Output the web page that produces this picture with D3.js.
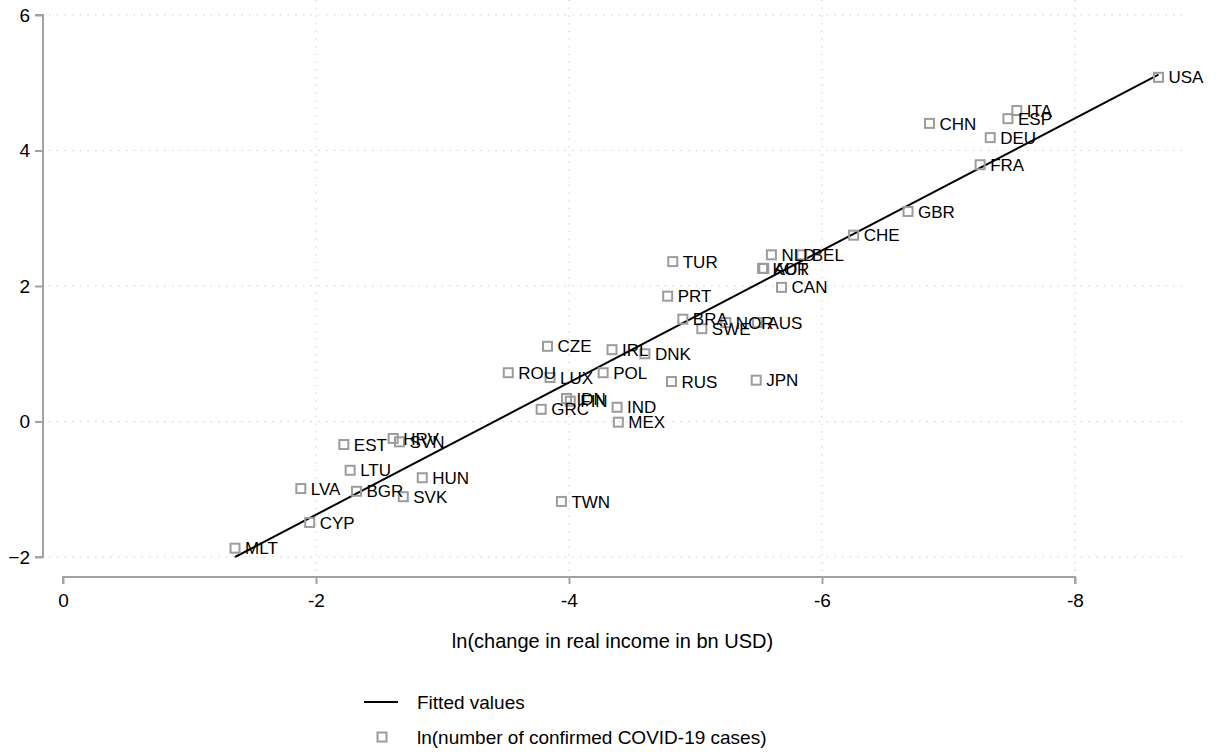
<!DOCTYPE html>
<html>
<head>
<meta charset="utf-8">
<script src="https://cdn.jsdelivr.net/npm/d3@7.9.0/dist/d3.min.js"></script>
<style>
  body { margin: 0; background: #fff; }
  svg { display: block; font-family: "Liberation Sans", Arial, sans-serif; }
</style>
</head>
<body>
<div id="chart"></div>
<script>
// country codes, ln(change in real income) and ln(confirmed cases)
const countries = ['USA','ITA','ESP','CHN','DEU','FRA','GBR','CHE','NLD','BEL','KOR','AUT','CAN','TUR','PRT',
  'BRA','SWE','NOR','AUS','CZE','IRL','DNK','ROU','LUX','POL','RUS','JPN','IDN','FIN','GRC','IND','MEX','TWN',
  'EST','HRV','SVN','LTU','HUN','LVA','BGR','SVK','CYP','MLT'];
const incomeChange = [-8.66,-7.54,-7.47,-6.85,-7.33,-7.25,-6.68,-6.25,-5.60,-5.84,-5.53,-5.54,-5.68,-4.82,-4.78,
  -4.90,-5.05,-5.24,-5.49,-3.83,-4.34,-4.60,-3.52,-3.85,-4.27,-4.81,-5.48,-3.98,-4.01,-3.78,-4.38,-4.39,-3.94,
  -2.22,-2.61,-2.66,-2.27,-2.84,-1.88,-2.32,-2.69,-1.95,-1.36];
const covidCases = [5.08,4.59,4.47,4.40,4.19,3.79,3.10,2.75,2.46,2.46,2.26,2.26,1.98,2.36,1.85,
  1.51,1.37,1.46,1.46,1.11,1.06,1.00,0.72,0.65,0.72,0.59,0.61,0.34,0.30,0.18,0.21,-0.01,-1.18,
  -0.34,-0.25,-0.30,-0.72,-0.83,-0.99,-1.03,-1.11,-1.49,-1.87];

// fitted line endpoints
const fitX = [-1.36, -8.66];
const fitY = [-2.00, 5.12];

const xTicks = [0, -2, -4, -6, -8];
const yTicks = [-2, 0, 2, 4, 6];

const width = 1217, height = 754;
const axisGrey = '#a3a3a3';
const markerGrey = '#9c9c9c';

const svg = d3.select('#chart').append('svg')
  .attr('width', width)
  .attr('height', height);

const xScale = d3.scaleLinear().domain([0, -8]).range([63, 1075]);
const yScale = d3.scaleLinear().domain([-2, 6]).range([557, 15]);

const plotLeft = 43, plotRight = 1182, plotTop = 0, plotBottom = 565;

// gridlines
const grid = svg.append('g').attr('class', 'grid');
grid.selectAll('line.h')
  .data(yTicks)
  .join('line')
  .attr('class', 'h')
  .attr('x1', plotLeft + 6).attr('x2', plotRight)
  .attr('y1', d => yScale(d)).attr('y2', d => yScale(d));
grid.selectAll('line.v')
  .data(xTicks.filter(d => d !== 0))
  .join('line')
  .attr('class', 'v')
  .attr('x1', d => xScale(d)).attr('x2', d => xScale(d))
  .attr('y1', plotTop).attr('y2', plotBottom + 8);
grid.selectAll('line')
  .attr('stroke', '#c4c4c4')
  .attr('stroke-width', 1)
  .attr('stroke-dasharray', '1.2,6.5');

// y axis
const yAxis = svg.append('g')
  .attr('transform', `translate(${plotLeft},0)`)
  .call(d3.axisLeft(yScale).tickValues(yTicks).tickSize(8).tickPadding(5).tickFormat(d3.format('d')));

// x axis
const xAxis = svg.append('g')
  .attr('transform', 'translate(0,577)')
  .call(d3.axisBottom(xScale).tickValues(xTicks).tickSize(7).tickPadding(10).tickFormat(d => d === 0 ? '0' : '-' + Math.abs(d)));

[yAxis, xAxis].forEach(ax => {
  ax.select('.domain').attr('stroke', axisGrey).attr('stroke-width', 2);
  ax.selectAll('.tick line').attr('stroke', axisGrey).attr('stroke-width', 2);
  ax.selectAll('.tick text').attr('fill', '#000').style('font-size', '19px')
    .style('font-family', '"Liberation Sans", Arial, sans-serif');
});
yAxis.select('.domain').attr('d', `M-8,${yScale(6)}H0V${yScale(-2)}H-8`);
xAxis.select('.domain').attr('d', `M${xScale(0)},7V0H${xScale(-8)}V7`);

svg.append('text')
  .attr('x', (plotLeft + plotRight) / 2)
  .attr('y', 641)
  .attr('dy', '0.36em')
  .attr('text-anchor', 'middle')
  .style('font-size', '20px')
  .text('ln(change in real income in bn USD)');

// fitted line
const fitData = fitX.map((x, i) => ({ x, y: fitY[i] }));
svg.append('path')
  .datum(fitData)
  .attr('fill', 'none')
  .attr('stroke', '#000')
  .attr('stroke-width', 2)
  .attr('d', d3.line().x(d => xScale(d.x)).y(d => yScale(d.y)));

// markers and labels
const points = countries.map((c, i) => ({ c, x: incomeChange[i], y: covidCases[i] }));
const dots = svg.append('g');
dots.selectAll('rect')
  .data(points)
  .join('rect')
  .attr('x', d => xScale(d.x) - 4.5)
  .attr('y', d => yScale(d.y) - 4.5)
  .attr('width', 9)
  .attr('height', 9)
  .attr('fill', 'none')
  .attr('stroke', markerGrey)
  .attr('stroke-width', 2);
dots.selectAll('text')
  .data(points)
  .join('text')
  .attr('x', d => xScale(d.x) + 10)
  .attr('y', d => yScale(d.y))
  .attr('dy', '0.36em')
  .style('font-size', '17px')
  .text(d => d.c);

// legend
const legend = svg.append('g');
legend.append('line')
  .attr('x1', 364).attr('x2', 398)
  .attr('y1', 702).attr('y2', 702)
  .attr('stroke', '#000').attr('stroke-width', 2);
legend.append('text')
  .attr('x', 417).attr('y', 702).attr('dy', '0.36em')
  .style('font-size', '19px')
  .text('Fitted values');
legend.append('rect')
  .attr('x', 377.5).attr('y', 732.5)
  .attr('width', 9).attr('height', 9)
  .attr('fill', 'none').attr('stroke', markerGrey).attr('stroke-width', 2);
legend.append('text')
  .attr('x', 417).attr('y', 737).attr('dy', '0.36em')
  .style('font-size', '19px')
  .text('ln(number of confirmed COVID-19 cases)');
</script>
</body>
</html>
